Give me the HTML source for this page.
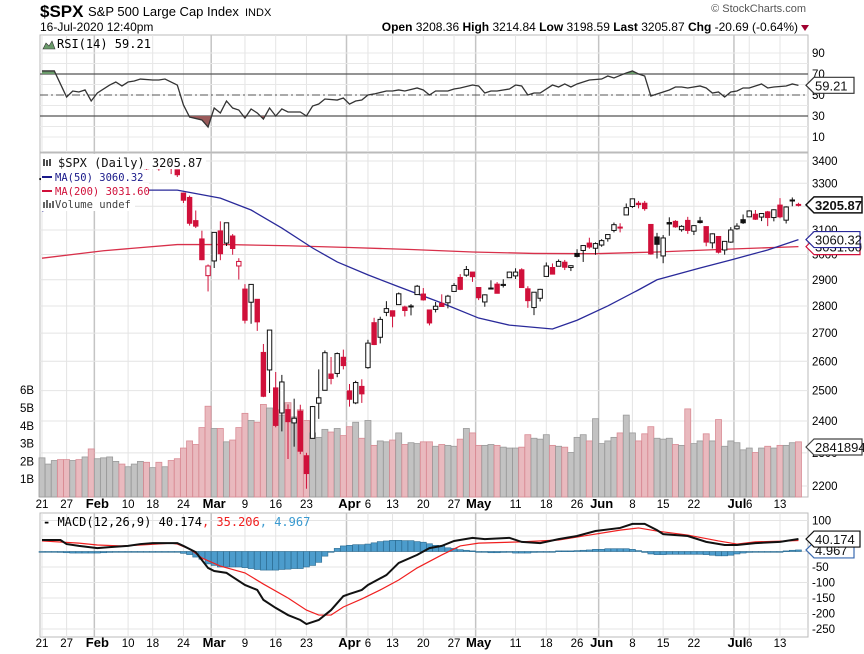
<!DOCTYPE html>
<html><head><meta charset="utf-8"><style>
html,body{margin:0;padding:0;background:#fff;}
svg{display:block;font-family:"Liberation Sans",sans-serif;}
.mono{font-family:"DejaVu Sans Mono","Liberation Mono",monospace;}
</style></head><body>
<svg id="chart" width="864" height="654" viewBox="0 0 864 654" xmlns="http://www.w3.org/2000/svg">
<g id="header">
<text x="40" y="17" font-size="17" font-weight="bold">$SPX</text>
<text x="88" y="16" font-size="13">S&amp;P 500 Large Cap Index</text>
<text x="245" y="16" font-size="11">INDX</text>
<text x="40" y="31" font-size="12">16-Jul-2020 12:40pm</text>
<text x="806" y="12" font-size="11" fill="#555" text-anchor="end">© StockCharts.com</text>
<text x="798" y="31" font-size="12" text-anchor="end"><tspan font-weight="bold">Open</tspan> 3208.36 <tspan font-weight="bold">High</tspan> 3214.84 <tspan font-weight="bold">Low</tspan> 3198.59 <tspan font-weight="bold">Last</tspan> 3205.87 <tspan font-weight="bold">Chg</tspan> -20.69 (-0.64%)</text>
<polygon points="801,25 809,25 805,31" fill="#a00030"/>
</g>
<g id="grid"></g>
<g id="vol"></g>
<g id="rsi"></g>
<g id="price"></g>
<g id="macd"></g>
<g id="axes"></g>
</svg>
<script>
// ---- data ----
const opens=[3321,3330,3316,3334,3247,3255,3289,3256,3282,3235,3280,3324,3344,3335,3318,3366,3370,3365,3378,3370,3380,3380,3360,3257,3238,3139,3063,2916,2974,3096,3046,3075,2954,2864,2814,2825,2631,2570,2509,2426,2437,2394,2432,2291,2345,2458,2501,2556,2558,2614,2499,2459,2514,2578,2738,2685,2776,2782,2805,2796,2799,2843,2845,2785,2787,2810,2812,2855,2909,2918,2930,2870,2815,2868,2883,2878,2908,2915,2939,2865,2794,2829,2913,2948,2953,2969,2948,3004,3016,3046,3025,3038,3064,3098,3112,3163,3199,3213,3213,3123,3071,2994,3131,3136,3101,3140,3095,3138,3114,3047,3073,3018,3050,3105,3143,3155,3166,3154,3176,3152,3205,3141,3226,3208];
const highs=[3329,3337,3326,3334,3258,3285,3293,3286,3282,3268,3306,3337,3348,3342,3353,3375,3381,3385,3380,3375,3393,3389,3360,3259,3246,3182,3097,2960,3091,3136,3130,3083,2985,2883,2883,2825,2661,2711,2563,2553,2454,2473,2453,2300,2449,2572,2638,2615,2631,2641,2522,2533,2538,2676,2756,2760,2818,2782,2851,2801,2807,2880,2868,2785,2815,2844,2842,2887,2922,2954,2930,2870,2844,2898,2891,2902,2932,2945,2945,2875,2852,2865,2968,2964,2980,2978,2957,3021,3036,3068,3049,3062,3081,3131,3128,3212,3232,3223,3223,3124,3088,3079,3153,3141,3120,3155,3120,3155,3115,3086,3073,3053,3112,3128,3165,3183,3184,3171,3180,3187,3235,3200,3238,3215];
const lows=[3301,3320,3302,3280,3234,3255,3271,3243,3214,3235,3280,3313,3334,3323,3318,3352,3369,3360,3367,3356,3378,3341,3328,3214,3118,3108,2977,2855,2946,2977,3034,2999,2901,2735,2734,2708,2478,2492,2380,2367,2281,2319,2296,2192,2345,2407,2500,2521,2545,2572,2447,2455,2459,2574,2657,2663,2762,2721,2805,2761,2765,2843,2820,2728,2776,2797,2791,2855,2860,2912,2892,2822,2797,2863,2847,2870,2908,2903,2869,2793,2766,2817,2913,2922,2953,2938,2934,2988,2970,3023,2999,3031,3052,3090,3090,3163,3193,3191,3181,2999,2984,2965,3076,3109,3093,3084,3079,3127,3033,3024,3004,2999,3047,3101,3125,3155,3142,3137,3116,3136,3149,3127,3200,3199];
const closes=[3321,3321,3325,3295,3244,3276,3273,3284,3226,3249,3298,3334,3345,3328,3352,3358,3379,3374,3380,3370,3386,3373,3338,3226,3128,3116,2979,2954,3090,3003,3130,3024,2972,2747,2882,2741,2481,2711,2386,2529,2398,2409,2305,2237,2447,2476,2630,2541,2627,2585,2471,2527,2489,2664,2659,2750,2790,2762,2846,2783,2800,2875,2823,2737,2799,2798,2837,2878,2863,2940,2912,2831,2842,2868,2848,2882,2930,2930,2870,2820,2852,2863,2954,2922,2972,2949,2955,2992,3036,3030,3044,3056,3081,3122,3112,3194,3232,3207,3190,3002,3041,3067,3125,3113,3115,3098,3118,3131,3050,3084,3009,3053,3100,3116,3130,3180,3145,3169,3152,3185,3155,3197,3227,3206];
const volumes=[2.2,1.85,2.05,2.1,2.1,2.05,2.1,2.25,2.7,2.15,2.2,2.25,2.0,1.85,1.7,1.85,2.0,1.95,1.65,1.95,1.7,2.05,2.15,2.75,3.15,2.95,3.9,5.1,3.85,3.85,3.1,3.2,3.9,4.7,4.3,4.2,5.2,5.0,4.9,4.6,5.3,4.5,4.9,4.3,3.6,3.35,3.8,3.65,3.85,3.45,3.95,4.2,3.3,4.3,2.9,3.15,3.1,3.2,3.6,2.95,3.05,3.0,3.1,3.1,2.85,2.95,2.9,2.85,3.25,3.85,3.6,2.9,2.9,2.95,2.9,2.8,2.75,2.75,2.8,3.5,3.3,3.25,3.5,2.9,2.85,2.8,2.5,3.35,3.5,3.15,4.4,3.0,3.15,3.35,3.6,4.6,3.6,3.15,3.55,3.95,3.3,3.25,3.3,2.95,2.9,4.95,3.0,3.15,3.55,3.15,4.35,2.85,3.15,3.05,2.65,2.75,2.5,2.75,2.85,2.75,2.9,2.9,3.05,3.1];
const ma50Idx=[0,3,9,16,22,29,34,39,44,48,53,58,65,71,76,83,87,92,97,100,107,112,118,123];
const ma50Vals=[3180,3205,3244,3270,3270,3235,3184,3108,3026,2970,2919,2873,2811,2755,2729,2715,2747,2800,2861,2900,2946,2978,3018,3060];
const ma200Idx=[0,10,22,30,40,50,60,70,80,90,100,110,123];
const ma200Vals=[2985,3015,3040,3040,3035,3028,3020,3010,3004,3003,3010,3020,3031.6];
const rsiIdx=[0,2,4,5,6,7,8,9,11,12,13,14,15,16,18,19,20,22,23,24,26,27,28,29,30,31,32,33,34,35,36,37,38,39,40,42,43,44,45,46,48,49,50,51,52,53,54,56,57,58,59,61,62,63,64,66,67,68,70,71,72,73,74,76,77,78,79,80,81,83,84,85,86,87,88,89,91,92,93,95,96,97,98,99,100,102,103,104,105,107,108,109,110,111,112,113,114,115,117,118,119,121,122,123];
const rsiVals=[72.9,72.9,48.1,53.8,52.9,54.8,44.3,51.9,59.5,62.4,58.6,62.4,63.3,65.2,64.3,64.3,65.2,59.5,40.5,29,26.2,19.5,37.6,32.9,44.3,37.6,35.7,28.1,36.7,32.9,27.1,37.6,30,36.7,33.8,33.8,30,39.5,41.4,46.2,45.2,47.1,41.4,44.3,45.2,50,51,53.8,53.8,54.8,53.8,56.7,54.8,50,53.8,53.8,55.7,56.7,59.5,58.6,51.9,53.8,53.8,55.7,59.5,58.6,50,51.9,51.9,59.5,57.6,60.5,57.6,60.5,62.4,64.3,65.2,68.1,66.2,71,72.9,70,68.1,49,51,54.8,57.6,57.6,56.7,58.6,56.7,51.9,52.9,48.1,52.9,53.8,56.7,56.7,60.5,56.7,57.6,58.6,60.5,59.21];
const macdIdx=[0,3,4,6,9,11,14,16,18,21,22,23,25,27,28,30,31,33,35,36,38,40,42,43,45,47,49,50,52,53,56,58,61,63,65,67,70,72,76,78,81,84,87,90,94,96,98,100,101,105,108,111,113,116,120,123];
const macdVals=[37,37,24,18,11,14,18,24,27,27,27,18,-2,-53,-63,-69,-82,-108,-124,-156,-182,-205,-221,-234,-221,-189,-144,-137,-124,-108,-76,-37,-11,11,18,34,44,40,44,31,27,40,50,66,76,89,89,69,56,50,31,21,21,27,31,40.174];
const sigIdx=[0,6,9,13,16,21,22,24,26,29,33,36,40,43,45,47,49,52,55,58,61,65,68,71,78,84,89,94,97,100,105,110,113,116,123];
const sigVals=[34,27,21,18,21,27,24,8,-21,-47,-69,-105,-150,-189,-205,-205,-179,-153,-124,-92,-53,-11,18,27,31,37,53,69,76,66,53,34,24,31,35.206];
const histVals=[0,0,0,-3,-4,-5,-5,-5,-5,-5,-4,-3,-2,-1,0,0,0,0,0,0,0,0,-2,-6,-10,-18,-25,-40,-45,-50,-50,-50,-50,-52,-55,-58,-60,-60,-60,-58,-57,-55,-55,-50,-45,-35,-15,0,10,18,20,22,22,24,28,32,34,36,36,35,35,32,30,25,20,18,12,10,6,4,2,0,-2,-4,-4,-3,-2,-5,-5,-5,-3,-2,-2,0,2,2,2,3,4,5,7,7,9,9,9,9,7,3,-3,-8,-10,-10,-9,-9,-9,-9,-9,-9,-10,-12,-14,-14,-12,-8,-5,-3,-2,-1,-1,0,0,2,4,5];
const xLabelIdx=[0,4,9,14,18,23,28,33,38,43,50,53,57,62,67,71,77,82,87,91,96,101,106,113,115,120];
const xLabels=["21","27","Feb","10","18","24","Mar","9","16","23","Apr","6","13","20","27","May","11","18","26","Jun","8","15","22","Jul","6","13"];
const xLabelBold=[0,0,1,0,0,0,1,0,0,0,1,0,0,0,0,1,0,0,0,1,0,0,0,1,0,0];
const priceTicks=[3400,3300,3100,3000,2900,2800,2700,2600,2500,2400,2300,2200];
const priceGrid=[3400,3300,3200,3100,3000,2900,2800,2700,2600,2500,2400,2300,2200];
const volTicks=[1,2,3,4,5,6];
const rsiTicks=[90,70,50,30,10];
const macdTicks=[100,-50,-100,-150,-200,-250];
const macdGrid=[100,50,0,-50,-100,-150,-200,-250];

// ---- scales ----
const L=40,R=808;
const xI=i=>42+6.15*i;
const yP=v=>161+746.6*Math.log(3400/v);
const yV=v=>497-17.8*v;
const yR=v=>147.5-1.05*v;
const yM=v=>551.5-0.31*v;
const NS='http://www.w3.org/2000/svg';
function mk(tag,attrs,parent){const e=document.createElementNS(NS,tag);for(const k in attrs)e.setAttribute(k,attrs[k]);parent.appendChild(e);return e;}
const grid=document.getElementById('grid'),vol=document.getElementById('vol'),rsi=document.getElementById('rsi'),price=document.getElementById('price'),macd=document.getElementById('macd'),axes=document.getElementById('axes');

const panels=[[35,152],[153,497],[513,637]];
panels.forEach(([t,b],k)=>{
  const r=mk('rect',{x:L,y:t,width:R-L,height:b-t,fill:'#fff',stroke:'#bbb','stroke-width':1},grid);
  
  
  xLabelIdx.forEach((ix,j)=>{
    const x=xI(ix)-(xLabelBold[j]?3:0);
    const ln=mk('line',{x1:x,x2:x,y1:t,y2:b,stroke:xLabelBold[j]?'#c4c4c4':'#e4e4e4','stroke-width':xLabelBold[j]?1.5:1},grid);
    
    
  });
});
for(let v=10;v<=90;v+=10){const l=mk('line',{x1:L,x2:R,y1:yR(v),y2:yR(v),stroke:'#e8e8e8'},grid);}
priceGrid.forEach(v=>{const l=mk('line',{x1:L,x2:R,y1:yP(v),y2:yP(v),stroke:'#e4e4e4'},grid);});
macdGrid.forEach(v=>{const l=mk('line',{x1:L,x2:R,y1:yM(v),y2:yM(v),stroke:'#e4e4e4'},grid);});

volumes.forEach((v,i)=>{
  const down=i>0?closes[i]<closes[i-1]:closes[i]<opens[i];
  const b=mk('rect',{x:xI(i)-3,y:yV(v),width:6,height:497-yV(v),fill:down?'#e9b9be':'#c2c2c2',stroke:down?'#d98b94':'#9a9a9a','stroke-width':0.8},vol);
  
  
});

// RSI
[[70,'#555'],[30,'#555']].forEach(([v,c])=>{const l=mk('line',{x1:L,x2:R,y1:yR(v),y2:yR(v),stroke:c,'stroke-width':1.2},rsi);});
const mid=mk('line',{x1:L,x2:R,y1:yR(50),y2:yR(50),stroke:'#555','stroke-dasharray':'8,3,2,3'},rsi);

const rsiPts=rsiIdx.map((ix,j)=>xI(ix)+','+yR(rsiVals[j])).join(' ');
const defs=mk('defs',{},rsi);
const cpL=mk('clipPath',{id:'below30'},defs);mk('rect',{x:L,y:yR(30),width:R-L,height:40},cpL);
const cpH=mk('clipPath',{id:'above70'},defs);mk('rect',{x:L,y:35,width:R-L,height:yR(70)-35},cpH);
const f1=mk('polygon',{points:rsiPts+' '+xI(123)+','+yR(30)+' '+xI(0)+','+yR(30),fill:'#9a5a5a','clip-path':'url(#below30)'},rsi);

const f2=mk('polygon',{points:rsiPts+' '+xI(123)+','+yR(70)+' '+xI(0)+','+yR(70),fill:'#6a9a6a','clip-path':'url(#above70)'},rsi);

const rl=mk('polyline',{points:rsiPts,fill:'none',stroke:'#333','stroke-width':1.3},rsi);


function maLine(idx,vals,col,name){const p=mk('polyline',{points:idx.map((ix,j)=>xI(ix)+','+yP(vals[j])).join(' '),fill:'none',stroke:col,'stroke-width':1.3},price);}
maLine(ma200Idx,ma200Vals,'#d8304a','ma200-line');
maLine(ma50Idx,ma50Vals,'#2a2a9a','ma50-line');
closes.forEach((c,i)=>{
  const o=opens[i],x=xI(i);
  const red=i>0?c<closes[i-1]:c<o;
  const col=red?'#d0103a':'#111';
  const g=mk('g',{},price);
  
  
  mk('line',{x1:x,x2:x,y1:yP(highs[i]),y2:yP(lows[i]),stroke:col,'stroke-width':1},g);
  const top=yP(Math.max(o,c)),bot=yP(Math.min(o,c));
  mk('rect',{x:x-2.2,y:top,width:4.4,height:Math.max(1,bot-top),fill:c<o?col:'#fff',stroke:col,'stroke-width':1},g);
});
// legend
const lg=mk('g',{},price);
mk('rect',{x:41,y:154,width:165,height:15,fill:'#fff'},lg);
mk('rect',{x:41,y:169,width:102,height:14,fill:'#fff'},lg);
mk('rect',{x:41,y:183,width:108,height:14,fill:'#fff'},lg);
mk('rect',{x:41,y:197,width:94,height:14,fill:'#fff'},lg);
[['$SPX (Daily) 3205.87','#111',167,12],['MA(50) 3060.32','#1a1a8a',181,10.5],['MA(200) 3031.60','#d0103a',195,10.5],['Volume undef','#444',208,10.5]].forEach(([t,c,y,fs],k)=>{
  const tx=mk('text',{x:k==0?58:55,y:y,'font-size':fs,fill:c,class:'mono'},lg);tx.textContent=t;
  
});
mk('rect',{x:42,y:176,width:10,height:2,fill:'#1a1a8a'},lg);mk('rect',{x:42,y:190,width:10,height:2,fill:'#d0103a'},lg);
mk('path',{d:'M43,208v-6h2v6zM46,208v-8h2v8zM49,208v-5h2v5zM52,208v-7h2v7z',fill:'#666'},lg);
mk('path',{d:'M44,166v-7M47,166v-6M50,166v-7',stroke:'#111','stroke-width':1.5},lg);
const rt=mk('text',{x:57,y:48,'font-size':12,class:'mono'},rsi);rt.textContent='RSI(14) 59.21';
mk('path',{d:'M43,49l3,-6 3,3 3,-5 3,8z',fill:'#6a9a6a',stroke:'#333','stroke-width':0.6},rsi);

// MACD
histVals.forEach((v,i)=>{
  const y0=yM(0),y1=yM(v);
  const b=mk('rect',{x:xI(i)-3,y:Math.min(y0,y1),width:6,height:Math.max(0.8,Math.abs(y1-y0)),fill:'#4c9ccc',stroke:'#2a6a90','stroke-width':0.6},macd);
  
  
});
const sl=mk('polyline',{points:sigIdx.map((ix,j)=>xI(ix)+','+yM(sigVals[j])).join(' '),fill:'none',stroke:'#f02020','stroke-width':1.2},macd);

const ml=mk('polyline',{points:macdIdx.map((ix,j)=>xI(ix)+','+yM(macdVals[j])).join(' '),fill:'none',stroke:'#111','stroke-width':2},macd);

const mt=mk('text',{x:43,y:526,'font-size':12,class:'mono'},macd);

mt.innerHTML='<tspan font-weight="bold">-</tspan> MACD(12,26,9) 40.174<tspan fill="#f02020">, 35.206</tspan><tspan fill="#3a9ad0">, 4.967</tspan>';

function txt(x,y,s,opt,name){const t=mk('text',Object.assign({x:x,y:y,'font-size':11.5},opt||{}),axes);t.textContent=s;return t;}
rsiTicks.forEach(v=>txt(812,yR(v)+4,String(v),{},'rsi-tick-label'));
priceTicks.forEach(v=>txt(812,yP(v)+4,String(v),{},'price-tick-label'));
volTicks.forEach(v=>txt(20,yV(v)+4,v+'B',{},'volume-tick-label'));
macdTicks.forEach(v=>txt(812,yM(v)+4,String(v),{},'macd-tick-label'));
[508,647].forEach(y=>{xLabels.forEach((s,j)=>{txt(xI(xLabelIdx[j]),y,s,{'text-anchor':'middle','font-weight':xLabelBold[j]?'bold':'normal','font-size':xLabelBold[j]?13:11.5},'x-tick-label');});});
function tag(y,w,s,col,bold,name){
  const g=mk('g',{},axes);
  mk('polygon',{points:`806,${y} 814,${y-8} ${814+w},${y-8} ${814+w},${y+8} 814,${y+8}`,fill:'#fff',stroke:col,'stroke-width':bold?1.5:1.2},g);
  const t=mk('text',{x:815,y:y+5,'font-size':13,'font-weight':bold?'bold':'normal',fill:'#111'},g);t.textContent=s;
}
tag(yP(3031.6),46,'3031.60','#d0103a',false,'ma200-value-tag');
tag(yP(3060.32),46,'3060.32','#2a2a9a',false,'ma50-value-tag');
tag(yP(3205.87),48,'3205.87','#111',true,'last-price-tag');
tag(447,48,'2841894','#444',false,'volume-value-tag');
tag(yR(59.21),40,'59.21','#333',false,'rsi-value-tag');
tag(yM(4.967),40,'4.967','#3a6ab0',false,'macd-hist-value-tag');
tag(yM(40.174),46,'40.174','#111',false,'macd-value-tag');
</script>
</body></html>
